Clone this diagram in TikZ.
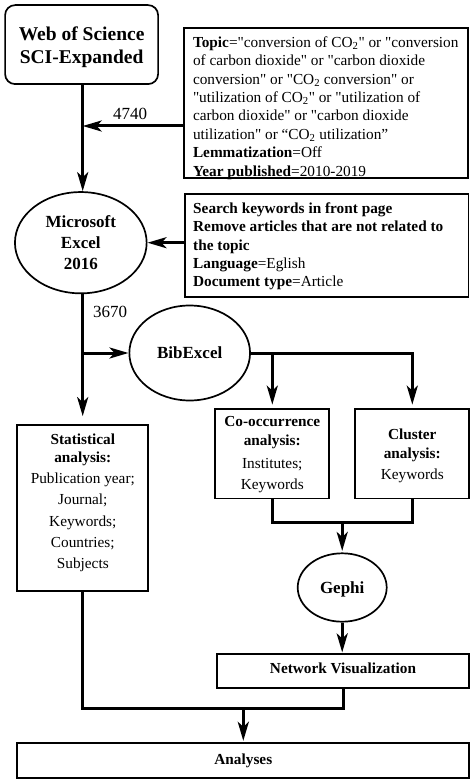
\documentclass[tikz,border=0pt]{standalone}
\usepackage{fontspec}
\setmainfont{Liberation Serif}[Ligatures=TeXOff]
\usetikzlibrary{arrows.meta,shapes.geometric}
\begin{document}
\begin{tikzpicture}[x=1pt,y=-1pt,
  box/.style={draw, line width=1.7pt, inner sep=0pt, align=center},
  oval/.style={draw, ellipse, line width=1.7pt, inner sep=0pt, align=center, font=\fontsize{17}{21.2}\selectfont\bfseries},
  conn/.style={line width=3pt},
  arr/.style={conn, -{Stealth[length=19pt,width=11pt,inset=5pt]}},
  lab/.style={inner sep=0pt, font=\fontsize{17}{20}\selectfont},
  txt/.style={font=\fontsize{15.3}{21.4}\selectfont},
  btxt/.style={font=\fontsize{15.3}{18}\selectfont\bfseries}
]
\useasboundingbox[fill=white] (0,0) rectangle (474,781);
\coordinate (m) at (82.7,0);

\node[box, rounded corners=10pt, minimum width=153pt, minimum height=79pt,
  font=\fontsize{19.5}{22.6}\selectfont\bfseries] (wos) at (81.6,44.6)
  {\rule{0pt}{19.2pt}Web of Science\\SCI-Expanded};

\node[box, minimum width=284pt, minimum height=150.6pt] (topic) at (326.3,103) {};
\node[anchor=north west, inner sep=0pt, align=left, font=\fontsize{15.3}{18.4}\selectfont] (topictext) at (192.8,35)
  {\rule{0pt}{12pt}\textbf{Topic}="conversion of CO\textsubscript{2}" or "conversion\\
   of carbon dioxide" or "carbon dioxide\\
   conversion" or "CO\textsubscript{2} conversion" or\\
   "utilization of CO\textsubscript{2}" or "utilization of\\
   carbon dioxide" or "carbon dioxide\\
   utilization" or “CO\textsubscript{2} utilization”\\
   \textbf{Lemmatization}=Off\\
   \textbf{Year published}=2010-2019};

\node[box, minimum width=283.3pt, minimum height=102.7pt] (einfo) at (326.7,245.3) {};
\node[anchor=north west, inner sep=0pt, align=left, font=\fontsize{15.3}{18.35}\selectfont] (einfotext) at (193,201.3)
  {\rule{0pt}{12pt}\textbf{Search keywords in front page}\\
   \textbf{Remove articles that are not related to}\\
   \textbf{the topic}\\
   \textbf{Language}=Eglish\\
   \textbf{Document type}=Article};

\node[oval, minimum width=131.7pt, minimum height=101.3pt] (excel) at (80.8,242.7) {Microsoft\\Excel\\2016};
\node[oval, minimum width=120.7pt, minimum height=95pt] (bib) at (189.7,353) {BibExcel};
\node[oval, minimum width=89pt, minimum height=68.4pt, text height=15.5pt, text depth=3.7pt] (gephi) at (342.2,587.5) {Gephi};

\node[box, txt, minimum width=131pt, minimum height=166pt] (stat) at (82.8,508)
  {\rule{0pt}{12pt}\textbf{Statistical}\\[-2.7pt] \textbf{analysis:}\\[-0.8pt] Publication year;\\ Journal;\\ Keywords;\\ Countries;\\ Subjects\rule[-15pt]{0pt}{15pt}};
\node[box, txt, minimum width=114pt, minimum height=89.5pt] (coo) at (272.3,453.75)
  {\rule{0pt}{12pt}\textbf{Co-occurrence}\\[-2.4pt] \textbf{analysis:}\\[1.2pt] Institutes;\\ Keywords};
\node[box, txt, minimum width=114pt, minimum height=89.5pt] (clu) at (412.3,453.75)
  {\rule{0pt}{13.8pt}\textbf{Cluster}\\[-2.1pt] \textbf{analysis:}\\[-0.7pt] Keywords};

\node[box, btxt, minimum width=252.6pt, minimum height=34pt, text height=10.5pt, text depth=6.5pt] (net) at (343,671.3) {Network Visualization};
\node[box, btxt, minimum width=452pt, minimum height=35.6pt] (ana) at (243.3,760.5) {Analyses};

\node[lab] (n4740) at (130,114) {4740};
\node[lab] (n3670) at (110,312) {3670};

% connectors
\draw[arr] (wos.south -| m) -- (excel.north -| m);
\draw[arr] ([yshift=-23pt]topic.west) coordinate (ta) -- (ta -| m);
\draw[arr] (excel.east -| einfo.west) -- (excel.east);
\draw[arr, shorten >=8pt] (excel.south -| m) -- (stat.north -| m);
\draw[arr] (bib.west -| m) -- (bib.west);
\draw[arr, shorten >=3.5pt] (bib.east) -- (bib.east -| clu.north) -- (clu.north);
\draw[arr, shorten >=3.5pt] (bib.east -| coo.north) -- (coo.north);
\coordinate (j) at (342.2,522.3);
\draw[conn] (coo.south) -- (coo.south |- j) -- (clu.south |- j) -- (clu.south);
\draw[arr, shorten >=1.5pt] (j) -- (gephi.north);
\draw[arr, shorten >=1pt] (gephi.south) -- (gephi.south |- net.north);
\coordinate (k) at (243.3,708.5);
\draw[conn] (stat.south) -- (stat.south |- k) -- (net.south |- k) -- (net.south);
\draw[arr, shorten >=1pt] (k) -- (k |- ana.north);
\end{tikzpicture}
\end{document}
